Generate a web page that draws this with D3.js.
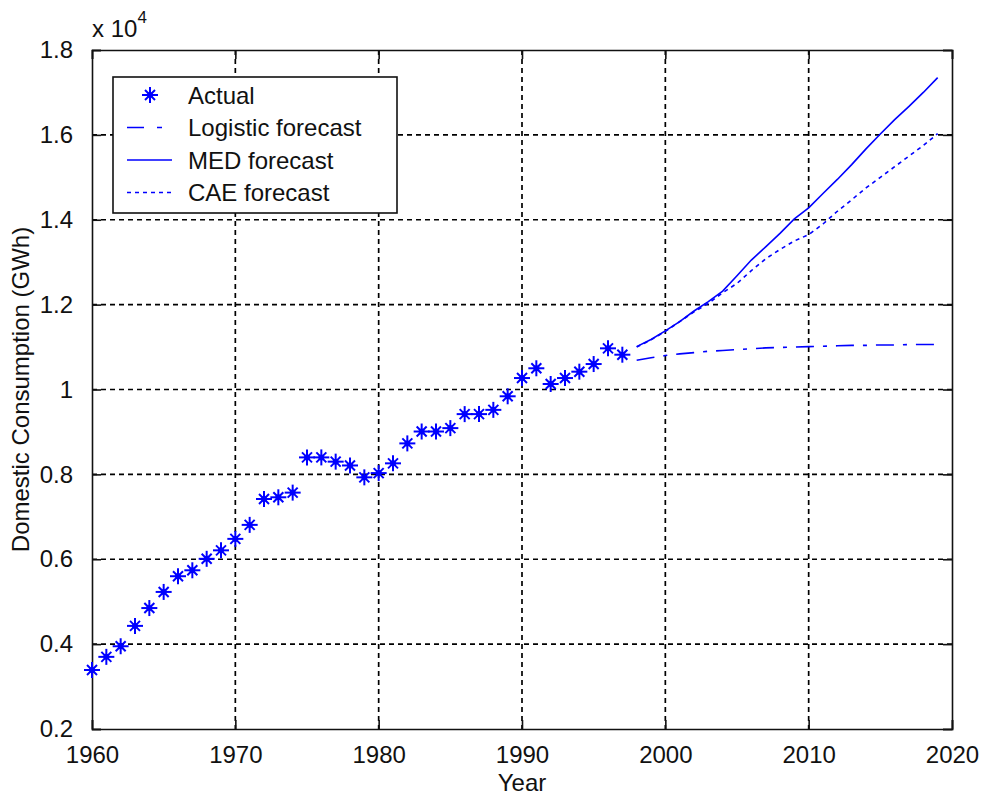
<!DOCTYPE html>
<html>
<head>
<meta charset="utf-8">
<script src="https://cdn.jsdelivr.net/npm/d3@7"></script>
<style>
  body { margin: 0; background: #fff; }
  text { font-family: "Liberation Sans", Arial, sans-serif; fill: #111; }
</style>
</head>
<body>
<div id="chart"></div>
<script>
var svgWidth = 982;
var svgHeight = 801;

var margin = { top: 50, right: 30, bottom: 72, left: 92 };
var width = svgWidth - margin.left - margin.right;
var height = svgHeight - margin.top - margin.bottom;

// Actual consumption (GWh), 1960-1997
var actualYears = d3.range(1960, 1998);
var actualValues = [3390, 3700, 3950, 4430, 4850, 5230, 5600, 5740, 6010, 6210,
  6480, 6810, 7420, 7460, 7570, 8400, 8400, 8300, 8210, 7930,
  8030, 8260, 8730, 9010, 9010, 9090, 9420, 9420, 9520, 9840,
  10270, 10500, 10130, 10270, 10420, 10600, 10970, 10820];

// Forecasts (GWh), 1998-2019
var forecastYears = d3.range(1998, 2020);
var logisticValues = [10690, 10750, 10800, 10840, 10870, 10900, 10920, 10940, 10960, 10980, 10990,
  11000, 11010, 11020, 11030, 11040, 11040, 11050, 11050, 11060, 11060, 11060];
var medValues = [11010, 11180, 11380, 11600, 11850, 12070, 12320, 12680, 13050, 13360, 13680,
  14020, 14280, 14620, 14950, 15300, 15670, 16020, 16360, 16670, 17000, 17350];
var caeValues = [11000, 11170, 11370, 11600, 11830, 12030, 12280, 12500, 12800, 13080, 13300,
  13500, 13650, 13900, 14200, 14470, 14750, 15000, 15250, 15500, 15750, 16030];

var xTicks = [1960, 1970, 1980, 1990, 2000, 2010, 2020];
var yTicks = [2000, 4000, 6000, 8000, 10000, 12000, 14000, 16000, 18000];

var blue = "#0000ff";

var svg = d3.select("#chart")
  .append("svg")
  .attr("width", svgWidth)
  .attr("height", svgHeight);

var chartGroup = svg.append("g")
  .attr("transform", `translate(${margin.left}, ${margin.top})`);

var xScale = d3.scaleLinear().domain([1960, 2020]).range([0, width]);
var yScale = d3.scaleLinear().domain([2000, 18000]).range([height, 0]);

// dashed grid
chartGroup.append("g")
  .selectAll("line")
  .data(xTicks.slice(1, -1))
  .enter()
  .append("line")
  .attr("x1", d => xScale(d)).attr("x2", d => xScale(d))
  .attr("y1", 0).attr("y2", height)
  .attr("stroke", "#000").attr("stroke-width", 1.7)
  .attr("stroke-dasharray", "5,4");

chartGroup.append("g")
  .selectAll("line")
  .data(yTicks.slice(1, -1))
  .enter()
  .append("line")
  .attr("x1", 0).attr("x2", width)
  .attr("y1", d => yScale(d)).attr("y2", d => yScale(d))
  .attr("stroke", "#000").attr("stroke-width", 1.7)
  .attr("stroke-dasharray", "5,4");

// axes, ticks pointing inward on all four sides
var tickLen = 9;
var bottomAxis = d3.axisBottom(xScale).tickValues(xTicks).tickSize(-tickLen).tickPadding(tickLen + 8).tickFormat(d3.format("d"));
var topAxis = d3.axisTop(xScale).tickValues(xTicks).tickSize(-tickLen).tickFormat("");
var leftAxis = d3.axisLeft(yScale).tickValues(yTicks).tickSize(-tickLen).tickPadding(tickLen + 10)
  .tickFormat(d => String(+(d / 1e4).toFixed(1)));
var rightAxis = d3.axisRight(yScale).tickValues(yTicks).tickSize(-tickLen).tickFormat("");

var xAxis = chartGroup.append("g").attr("transform", `translate(0, ${height})`).call(bottomAxis);
chartGroup.append("g").call(topAxis);
var yAxis = chartGroup.append("g").call(leftAxis);
chartGroup.append("g").attr("transform", `translate(${width}, 0)`).call(rightAxis);

chartGroup.selectAll(".domain").attr("stroke", "#111").attr("stroke-width", 1.6);
chartGroup.selectAll(".tick line").attr("stroke", "#111").attr("stroke-width", 1.6);
chartGroup.selectAll(".tick text").attr("font-size", 24).attr("fill", "#111")
  .attr("font-family", "Liberation Sans, Arial, sans-serif");
xAxis.selectAll(".tick text").attr("dy", "0.71em");

// exponent label
var expLabel = chartGroup.append("text")
  .attr("x", 0).attr("y", -13)
  .attr("font-size", 24);
expLabel.append("tspan").text("x 10");
expLabel.append("tspan").attr("dy", -14).attr("font-size", 17).text("4");

// axis titles
chartGroup.append("text")
  .attr("x", width / 2).attr("y", height + 62)
  .attr("text-anchor", "middle")
  .attr("font-size", 24)
  .text("Year");

chartGroup.append("text")
  .attr("transform", `translate(${-margin.left + 29}, ${height / 2}) rotate(-90)`)
  .attr("text-anchor", "middle")
  .attr("font-size", 24)
  .text("Domestic Consumption (GWh)");

// forecast lines
var line = d3.line()
  .x((d, i) => xScale(forecastYears[i]))
  .y(d => yScale(d));

var series = [
  { values: logisticValues, dash: "18,9,4,9" },
  { values: medValues, dash: null },
  { values: caeValues, dash: "4,4" }
];

series.forEach(function(s) {
  chartGroup.append("path")
    .datum(s.values)
    .attr("d", line)
    .attr("fill", "none")
    .attr("stroke", blue)
    .attr("stroke-width", 1.6)
    .attr("stroke-dasharray", s.dash);
});

// star marker like the matlab '*'
function drawStar(g) {
  g.append("line").attr("x1", -8).attr("x2", 8).attr("y1", 0).attr("y2", 0);
  g.append("line").attr("x1", 0).attr("x2", 0).attr("y1", -8).attr("y2", 8);
  g.append("line").attr("x1", -5).attr("x2", 5).attr("y1", -5).attr("y2", 5);
  g.append("line").attr("x1", -5).attr("x2", 5).attr("y1", 5).attr("y2", -5);
  g.append("circle").attr("r", 3).attr("fill", blue).attr("stroke", "none");
  g.attr("stroke", blue).attr("stroke-width", 2);
}

chartGroup.append("g")
  .selectAll("g")
  .data(actualValues)
  .enter()
  .append("g")
  .attr("transform", (d, i) => `translate(${xScale(actualYears[i])}, ${yScale(d)})`)
  .each(function() { drawStar(d3.select(this)); });

// legend
var legend = chartGroup.append("g").attr("transform", "translate(21, 27)");
legend.append("rect")
  .attr("width", 284).attr("height", 136)
  .attr("fill", "#fff").attr("stroke", "#111").attr("stroke-width", 1.6);

var legendItems = [
  { label: "Actual", type: "star" },
  { label: "Logistic forecast", dash: "17,13,5,40" },
  { label: "MED forecast", dash: null },
  { label: "CAE forecast", dash: "4,4" }
];

legendItems.forEach(function(item, i) {
  var yPos = 18 + i * 32.5;
  if (item.type === "star") {
    drawStar(legend.append("g").attr("transform", `translate(37, ${yPos})`));
  } else {
    legend.append("line")
      .attr("x1", 14).attr("x2", 59)
      .attr("y1", yPos).attr("y2", yPos)
      .attr("stroke", blue).attr("stroke-width", 1.6)
      .attr("stroke-dasharray", item.dash);
  }
  legend.append("text")
    .attr("x", 75).attr("y", yPos)
    .attr("dy", "0.36em")
    .attr("font-size", 24)
    .text(item.label);
});
</script>
</body>
</html>
